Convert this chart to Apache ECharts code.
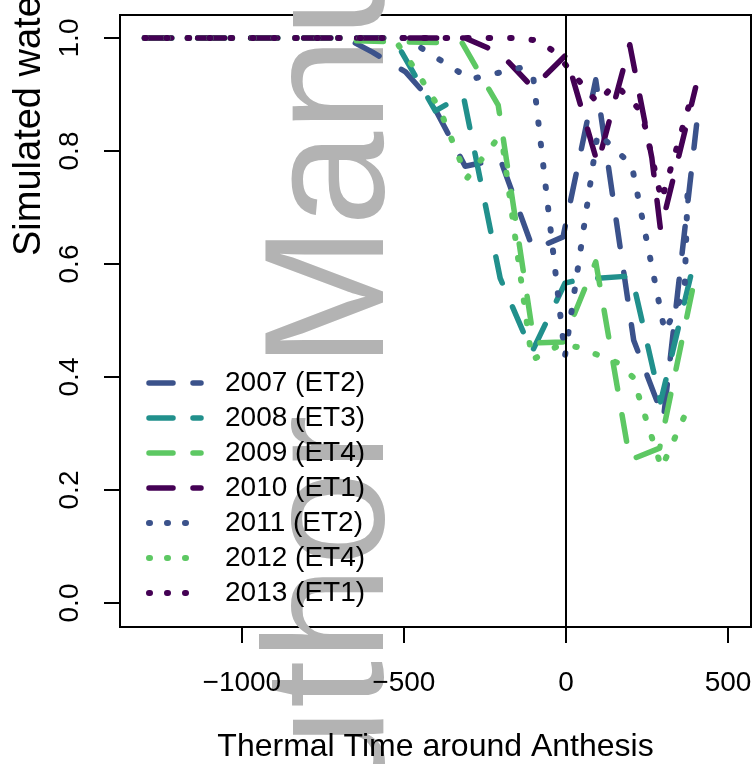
<!DOCTYPE html>
<html>
<head>
<meta charset="utf-8">
<script src="https://cdn.jsdelivr.net/npm/echarts@6/dist/echarts.min.js"></script>
<style>
  html, body { margin: 0; padding: 0; background: #fff; }
  #chart { width: 754px; height: 764px; }
</style>
</head>
<body>
<div id="chart"></div>
<script>
// thermal time (x) and simulated water stress (y)
var tt2007 = [-1300, -680, -597, -495, -418, -311, -203, -102, -65, -9, 92, 209, 301, 403];
var ws2007 = [1.0, 1.0, 0.975, 0.94, 0.89, 0.773, 0.786, 0.627, 0.634, 0.648, 0.926, 0.465, 0.327, 0.846];

var tt2008 = [-1300, -532, -403, -317, -203, -105, -3, 37, 203, 292, 391];
var ws2008 = [1.0, 1.0, 0.871, 0.899, 0.575, 0.444, 0.566, 0.572, 0.579, 0.356, 0.593];

var tt2009 = [-1300, -695, -649, -320, -209, -98, -9, 92, 197, 289, 400];
var ws2009 = [1.0, 1.0, 0.995, 0.991, 0.881, 0.46, 0.462, 0.604, 0.253, 0.274, 0.581];

var tt2010 = [-1300, -311, -203, -102, 0, 98, 197, 265, 292, 400];
var ws2010 = [1.0, 1.0, 0.973, 0.912, 0.97, 0.777, 0.988, 0.788, 0.66, 0.912];

var tt2011 = [-1300, -495, -295, -142, -102, -3, 98, 203, 305, 366, 375];
var ws2011 = [1.0, 1.0, 0.927, 0.947, 0.936, 0.437, 0.832, 0.775, 0.48, 0.552, 0.722];

var tt2012 = [-1300, -532, -462, -391, -305, -212, -197, -105, -18, 37, 160, 206, 295, 382];
var ws2012 = [1.0, 1.0, 0.942, 0.876, 0.752, 0.821, 0.818, 0.43, 0.457, 0.453, 0.425, 0.4, 0.239, 0.352];

var tt2013 = [-1300, -157, -80, -31, 98, 151, 234, 295, 388];
var ws2013 = [1.0, 1.0, 0.995, 0.973, 0.885, 0.919, 0.869, 0.713, 0.897];

var xTicks = [-1000, -500, 0, 500];
var yTicks = [0, 0.2, 0.4, 0.6, 0.8, 1.0];

var FONT = "Liberation Sans";
var dashed = [27, 26];
var dotted = [1.5, 20];

function pairs(xs, ys) {
  var out = [];
  for (var i = 0; i < xs.length; i++) out.push([xs[i], ys[i]]);
  return out;
}

function lineSeries(name, xs, ys, color, dash, width) {
  return {
    name: name,
    type: "line",
    data: pairs(xs, ys),
    symbol: "none",
    showSymbol: false,
    silent: true,
    lineStyle: { color: color, width: width, type: dash, cap: "round", join: "round" },
    itemStyle: { color: color },
  };
}

var chart = echarts.init(document.getElementById("chart"), null, { renderer: "canvas" });

var series = [
  lineSeries("2007 (ET2)", tt2007, ws2007, "#3B528B", dashed, 5.5),
  lineSeries("2008 (ET3)", tt2008, ws2008, "#21908C", dashed, 5.5),
  lineSeries("2009 (ET4)", tt2009, ws2009, "#5DC863", dashed, 5.5),
  lineSeries("2010 (ET1)", tt2010, ws2010, "#440154", dashed, 5.5),
  lineSeries("2011 (ET2)", tt2011, ws2011, "#3B528B", dotted, 6),
  lineSeries("2012 (ET4)", tt2012, ws2012, "#5DC863", dotted, 6),
  lineSeries("2013 (ET1)", tt2013, ws2013, "#440154", dotted, 6),
];
// vertical line at anthesis
series[0].markLine = {
  silent: true,
  symbol: "none",
  label: { show: false },
  lineStyle: { color: "#000", width: 2, type: "solid" },
  data: [{ xAxis: 0 }],
};

// legend keys use a slightly tighter pattern than the plot, like the original
var legendData = series.map(function (s, i) {
  return {
    name: s.name,
    lineStyle: { type: i < 4 ? [24, 20] : [1, 17] },
  };
});

var option = {
  animation: false,
  backgroundColor: "#fff",
  grid: {
    left: 120, top: 15, width: 631, height: 612,
    containLabel: false,
    outerBoundsMode: "none",
    show: true, borderColor: "#000", borderWidth: 2, backgroundColor: "transparent",
  },
  legend: {
    orient: "vertical",
    left: 146,
    top: 368,
    padding: 0,
    itemWidth: 52,
    itemHeight: 14,
    itemGap: 5,
    selectedMode: false,
    itemStyle: { opacity: 0 },
    lineStyle: { width: "inherit" },
    textStyle: { fontFamily: FONT, fontSize: 28, color: "#000", lineHeight: 30, padding: [0, 0, 0, 19] },
    data: legendData,
  },
  xAxis: {
    type: "value",
    min: -1376,
    max: 571,
    z: 3,
    splitLine: { show: false },
    axisLine: { show: false, onZero: false },
    axisTick: { show: true, inside: false, length: 16, customValues: xTicks, lineStyle: { color: "#000", width: 2 } },
    axisLabel: {
      customValues: xTicks,
      margin: 42,
      fontFamily: FONT, fontSize: 28, color: "#000",
      formatter: function (v) { return v < 0 ? "\u2212" + Math.abs(v) : String(v); },
    },
    name: "Thermal Time around Anthesis",
    nameLocation: "middle",
    nameGap: 104,
    nameTextStyle: { fontFamily: FONT, fontSize: 32, color: "#000" },
  },
  yAxis: {
    type: "value",
    min: -0.0425,
    max: 1.0407,
    z: 3,
    splitLine: { show: false },
    axisLine: { show: false, onZero: false },
    axisTick: { show: true, inside: false, length: 16, customValues: yTicks, lineStyle: { color: "#000", width: 2 } },
    axisLabel: {
      customValues: yTicks,
      rotate: 90,
      margin: 36,
      fontFamily: FONT, fontSize: 28, color: "#000",
      formatter: function (v) { return v.toFixed(1); },
    },
  },
  graphic: [
    {
      // "Author Manuscript" watermark
      type: "text",
      z: 1,
      silent: true,
      x: 336,
      y: 916,
      rotation: Math.PI / 2,
      style: {
        text: "Author Manuscript",
        font: "170px " + FONT,
        fill: "#b3b3b3",
        textAlign: "left",
        textVerticalAlign: "middle",
      },
    },
    {
      type: "text",
      z: 3,
      silent: true,
      x: 30,
      y: 256,
      rotation: Math.PI / 2,
      style: {
        text: "Simulated water stress",
        font: "38px " + FONT,
        fill: "#000",
        textAlign: "left",
        textVerticalAlign: "middle",
      },
    },
  ],
  series: series,
};

chart.setOption(option);
</script>
</body>
</html>
